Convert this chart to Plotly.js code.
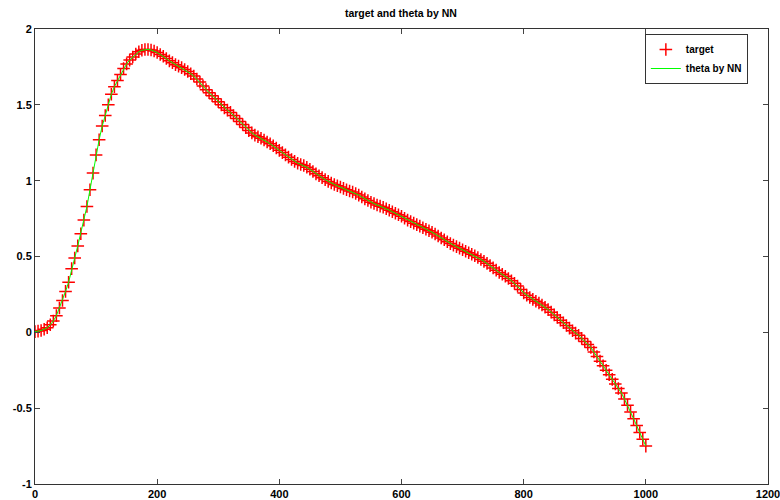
<!DOCTYPE html>
<html>
<head>
<meta charset="utf-8">
<script src="https://cdn.plot.ly/plotly-3.0.1.min.js"></script>
<style>html,body{margin:0;padding:0;background:#fff;}#chart{width:780px;height:500px;}</style>
</head>
<body>
<div id="chart"></div>
<script>
const sampleX = [0,5,10,15,20,25,30,35,40,45,50,55,60,65,70,75,80,85,90,95,
100,105,110,115,120,125,130,135,140,145,150,155,160,165,170,175,180,185,190,195,
200,205,210,215,220,225,230,235,240,245,250,255,260,265,270,275,280,285,290,295,
300,305,310,315,320,325,330,335,340,345,350,355,360,365,370,375,380,385,390,395,
400,405,410,415,420,425,430,435,440,445,450,455,460,465,470,475,480,485,490,495,
500,505,510,515,520,525,530,535,540,545,550,555,560,565,570,575,580,585,590,595,
600,605,610,615,620,625,630,635,640,645,650,655,660,665,670,675,680,685,690,695,
700,705,710,715,720,725,730,735,740,745,750,755,760,765,770,775,780,785,790,795,
800,805,810,815,820,825,830,835,840,845,850,855,860,865,870,875,880,885,890,895,
900,905,910,915,920,925,930,935,940,945,950,955,960,965,970,975,980,985,990,995,1000];

const targetY = [0.005,0.008,0.012,0.02,0.03,0.05,0.075,0.11,0.16,0.21,0.27,0.33,0.42,0.49,0.57,0.65,0.74,0.83,0.94,1.05,
1.17,1.27,1.36,1.43,1.50,1.57,1.62,1.66,1.70,1.74,1.77,1.795,1.815,1.835,1.85,1.86,1.865,1.865,1.862,1.855,
1.845,1.832,1.82,1.805,1.79,1.778,1.765,1.755,1.745,1.733,1.72,1.705,1.69,1.67,1.65,1.625,1.60,1.58,1.56,1.54,
1.52,1.50,1.48,1.465,1.45,1.43,1.41,1.39,1.37,1.35,1.33,1.315,1.30,1.29,1.28,1.268,1.255,1.243,1.23,1.215,
1.20,1.185,1.17,1.155,1.14,1.127,1.115,1.107,1.10,1.088,1.075,1.06,1.045,1.032,1.02,1.007,0.995,0.985,0.975,0.966,
0.958,0.949,0.94,0.932,0.925,0.915,0.905,0.892,0.88,0.869,0.858,0.849,0.84,0.832,0.825,0.815,0.805,0.795,0.785,0.775,
0.765,0.752,0.74,0.73,0.72,0.71,0.70,0.69,0.68,0.67,0.66,0.648,0.635,0.622,0.61,0.597,0.585,0.575,0.565,0.555,
0.545,0.535,0.525,0.515,0.505,0.493,0.48,0.468,0.455,0.44,0.425,0.41,0.395,0.383,0.37,0.355,0.34,0.323,0.305,0.283,
0.26,0.245,0.23,0.217,0.205,0.193,0.18,0.165,0.15,0.133,0.115,0.098,0.08,0.063,0.045,0.028,0.01,-0.005,-0.02,-0.04,
-0.06,-0.08,-0.10,-0.13,-0.16,-0.19,-0.22,-0.25,-0.28,-0.31,-0.34,-0.37,-0.40,-0.44,-0.48,-0.525,-0.57,-0.615,-0.66,-0.705,-0.75];

const thetaY = targetY.slice();

const xTicks = [0,200,400,600,800,1000,1200];
const yTicks = [-1,-0.5,0,0.5,1,1.5,2];
const yTickText = ['-1','-0.5','0','0.5','1','1.5','2'];

const fontFam = 'Arial, "Liberation Sans", sans-serif';

const traces = [
  {
    x: sampleX, y: targetY, name: 'target', type: 'scatter', mode: 'markers',
    marker: {symbol: 'cross-thin-open', size: 9, color: '#ff0000', line: {color: '#ff0000', width: 1.5}}
  },
  {
    x: sampleX, y: thetaY, name: 'theta by NN', type: 'scatter', mode: 'lines',
    line: {color: '#00ff00', width: 1}
  }
];

const axisCommon = {
  showline: true, linecolor: '#333', linewidth: 1, mirror: 'ticks',
  ticks: 'inside', ticklen: 5, tickcolor: '#444', tickwidth: 1,
  showgrid: false, zeroline: false, ticklabeloverflow: 'allow',
  tickfont: {family: fontFam, size: 11, color: '#000', weight: 'bold'}
};

const layout = {
  width: 780, height: 500,
  margin: {l: 35, r: 12, t: 29, b: 16},
  paper_bgcolor: '#fff', plot_bgcolor: '#fff',
  title: {text: 'target and theta by NN', font: {family: fontFam, size: 10.5, color: '#000', weight: 'bold'},
          x: 0.514, xanchor: 'center', y: 0.974, yanchor: 'middle', yref: 'container'},
  xaxis: Object.assign({}, axisCommon, {range: [0, 1200], tickvals: xTicks, ticktext: xTicks.map(String)}),
  yaxis: Object.assign({}, axisCommon, {range: [-1, 2], tickvals: yTicks, ticktext: yTickText}),
  showlegend: true,
  legend: {x: 0.832, y: 0.989, xanchor: 'left', yanchor: 'top', bgcolor: '#fff', bordercolor: '#333', borderwidth: 1,
           font: {family: fontFam, size: 10, color: '#000', weight: 'bold'}, tracegroupgap: 0, itemwidth: 30,
           entrywidth: 112, entrywidthmode: 'pixels'}
};

Plotly.newPlot('chart', traces, layout, {displayModeBar: false, staticPlot: true});
</script>
</body>
</html>
